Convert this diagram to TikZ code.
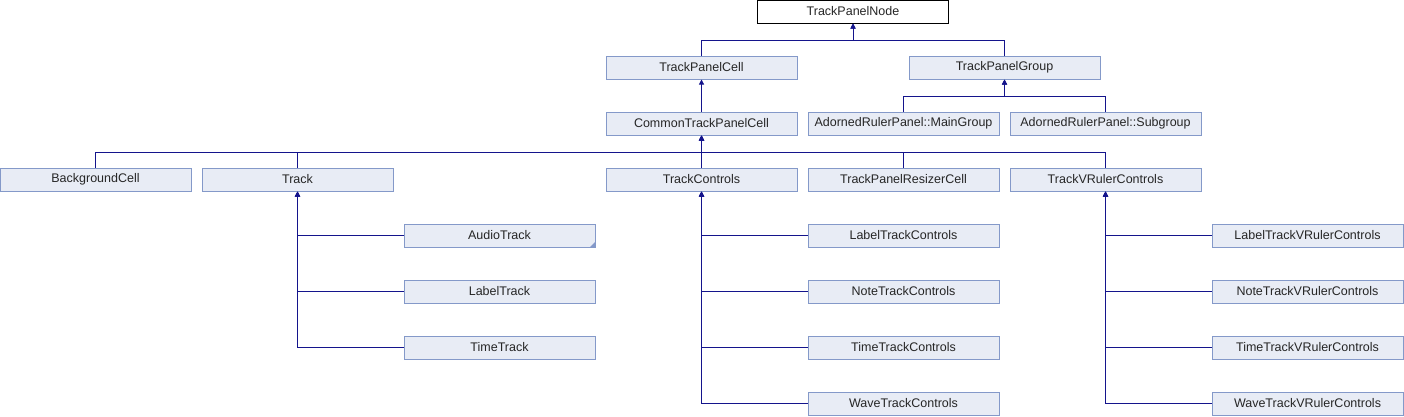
\documentclass[tikz,border=0pt]{standalone}
\usepackage{fontspec}
\setmainfont{Liberation Sans}
\usetikzlibrary{arrows.meta}
\definecolor{boxfill}{RGB}{232,236,245}
\definecolor{boxline}{RGB}{132,153,201}
\definecolor{edgecol}{RGB}{20,20,140}
\tikzset{
  cls/.style={draw=boxline, fill=boxfill, line width=1pt, minimum width=191pt, minimum height=23pt, inner sep=0pt, font=\fontsize{12.5pt}{14pt}\selectfont, text=black!85},
  rootcls/.style={cls, draw=black, fill=white},
  edge/.style={draw=edgecol, line width=1pt, -{Triangle[length=5pt,width=5pt]}},
}
\begin{document}
\begin{tikzpicture}[x=1pt,y=-1pt]
\useasboundingbox (0,0) rectangle (1404,416);
% row 0
\node[rootcls] (n0) at (853,11.5) {TrackPanelNode};
% row 1
\node[cls] (cell) at (701.5,67.5) {TrackPanelCell};
\node[cls] (grp) at (1004.5,67.5) {TrackPanelGroup};
% row 2
\node[cls] (common) at (701.5,123.5) {CommonTrackPanelCell};
\node[cls] (maing) at (903.5,123.5) {AdornedRulerPanel::MainGroup};
\node[cls] (subg) at (1105.5,123.5) {AdornedRulerPanel::Subgroup};
% row 3
\node[cls] (bg) at (95.5,179.5) {BackgroundCell};
\node[cls] (track) at (297.5,179.5) {Track};
\node[cls] (tc) at (701.5,179.5) {TrackControls};
\node[cls] (resz) at (903.5,179.5) {TrackPanelResizerCell};
\node[cls] (vr) at (1105.5,179.5) {TrackVRulerControls};
% Track children
\node[cls] (audio) at (499.5,235.5) {AudioTrack};
\node[cls] (label) at (499.5,291.5) {LabelTrack};
\node[cls] (time) at (499.5,347.5) {TimeTrack};
% TrackControls children
\node[cls] (ltc) at (903.5,235.5) {LabelTrackControls};
\node[cls] (ntc) at (903.5,291.5) {NoteTrackControls};
\node[cls] (ttc) at (903.5,347.5) {TimeTrackControls};
\node[cls] (wtc) at (903.5,403.5) {WaveTrackControls};
% TrackVRulerControls children
\node[cls] (lvr) at (1307.5,235.5) {LabelTrackVRulerControls};
\node[cls] (nvr) at (1307.5,291.5) {NoteTrackVRulerControls};
\node[cls] (tvr) at (1307.5,347.5) {TimeTrackVRulerControls};
\node[cls] (wvr) at (1307.5,403.5) {WaveTrackVRulerControls};
% truncation marker
\fill[boxline] (audio.south east) -- ++(-6pt,0pt) -- ++(6pt,6pt) -- cycle;
% edges to bars
\foreach \c/\p in {cell/n0, grp/n0, common/cell, maing/grp, subg/grp, bg/common, track/common, tc/common, resz/common, vr/common}
  \draw[edge] (\c.north) |- ([yshift=-17pt]\p.south) -- (\p.south);
% side edges
\foreach \c/\p in {audio/track, label/track, time/track, ltc/tc, ntc/tc, ttc/tc, wtc/tc, lvr/vr, nvr/vr, tvr/vr, wvr/vr}
  \draw[edge] (\c.west) -| (\p.south);
\end{tikzpicture}
\end{document}
